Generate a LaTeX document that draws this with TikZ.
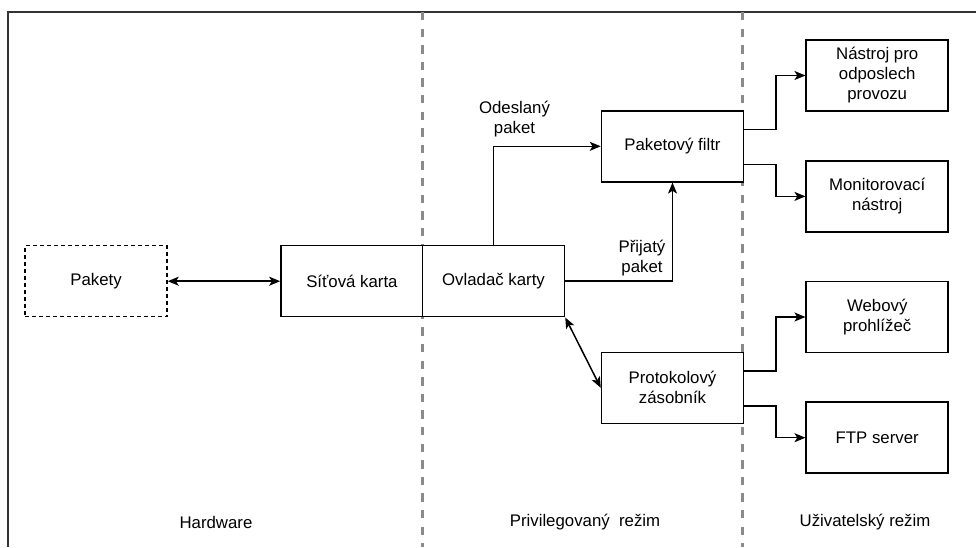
\documentclass[tikz,border=0pt]{standalone}
\usepackage{fontspec}
\setmainfont{Liberation Sans}
\usetikzlibrary{arrows.meta,positioning}
\definecolor{framegray}{HTML}{333333}
\definecolor{zonegray}{HTML}{8A8A8A}
\tikzset{
  box/.style={draw=black, fill=white, line width=1.5pt, minimum width=142pt,
    minimum height=71pt, inner sep=2pt, align=center,
    font=\fontsize{16.8}{20}\selectfont},
  ghostbox/.style={box, dashed, dash pattern=on 4pt off 3pt},
  link/.style={draw=black, line width=1.5pt},
  tip/.style={-{Stealth[length=11pt,width=9pt,inset=2.8pt]}},
  bitip/.style={{Stealth[length=11pt,width=9pt,inset=2.8pt]}-{Stealth[length=11pt,width=9pt,inset=2.8pt]}},
  lbl/.style={align=center, inner sep=0pt, font=\fontsize{16.8}{20}\selectfont},
  zone/.style={draw=zonegray, line width=2.7pt, dash pattern=on 8.3pt off 8.3pt},
}
\begin{document}
\begin{tikzpicture}[x=1pt,y=-1pt]
\useasboundingbox (0,0) rectangle (976,547);

% frame and zone separators
\draw[framegray, line width=2.2pt] (8,547) -- (8,12) -- (976,12);
\draw[zone] (422.7,12) -- (422.7,547);
\draw[zone] (742.7,12) -- (742.7,547);

% boxes
\node[ghostbox] (pakety) at (96,281.2) {Pakety};
\node[box] (sit) at (351.9,281.2) {Síťová karta};
\node[box] (ovl) at (493.5,281.2) {Ovladač karty};
\node[box] (filtr) at (672.5,146.3) {Paketový filtr};
\node[box] (proto) at (672.5,387.8) {Protokolový\\zásobník};
\node[box] (nastroj) at (877.2,75.5) {Nástroj pro\\odposlech\\provozu};
\node[box] (monitor) at (877.2,196.4) {Monitorovací\\nástroj};
\node[box] (web) at (877.2,317) {Webový\\prohlížeč};
\node[box] (ftp) at (877.2,437.7) {FTP server};

% connectors
\draw[link, bitip] (pakety.east) -- (sit.west);
\draw[link, tip] (ovl.north) |- (filtr.west);
\draw[link, tip] (ovl.east) -| (filtr.south);
\draw[link, bitip] (ovl.south east) -- (proto.west);

\draw[link, tip] ([yshift=17pt]filtr.east) -- ++(31.5,0) |- (nastroj.west);
\draw[link, tip] ([yshift=-18pt]filtr.east) -- ++(31.5,0) |- (monitor.west);
\draw[link, tip] ([yshift=17pt]proto.east) -- ++(31.5,0) |- (web.west);
\draw[link, tip] ([yshift=-18pt]proto.east) -- ++(31.5,0) |- (ftp.west);

% connector labels
\node[lbl] (odeslany) at (514.5,119) {Odeslaný\\paket};
\node[lbl] (prijaty) at (642,258) {Přijatý\\paket};

% zone captions
\node[lbl] (hw) at (216,522) {Hardware};
\node[lbl] (priv) at (585,522) {Privilegovaný~ režim};
\node[lbl] (user) at (865,522) {Uživatelský režim};
\end{tikzpicture}
\end{document}
